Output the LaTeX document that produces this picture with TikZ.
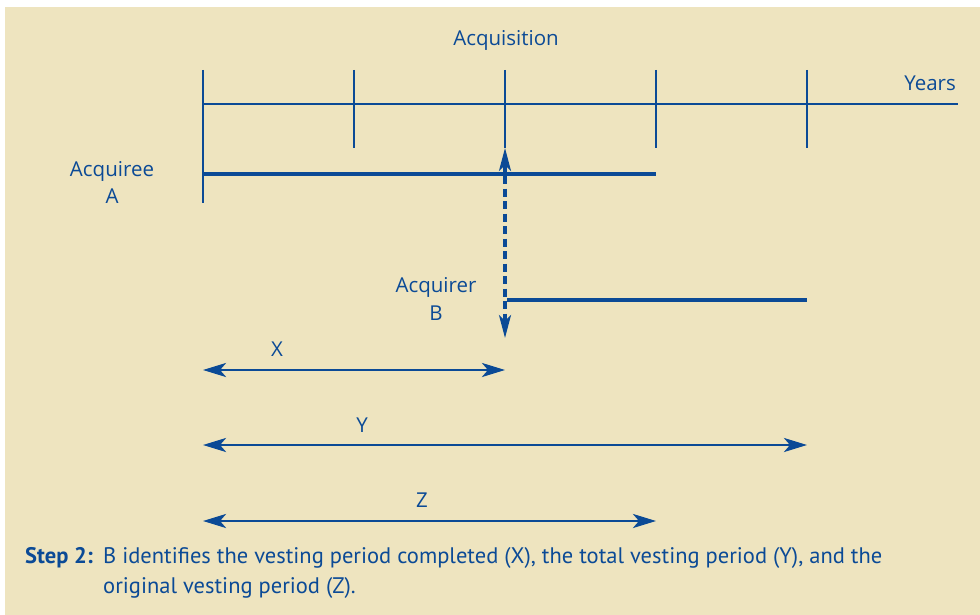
\documentclass[tikz,border=0pt]{standalone}
\usepackage{fontspec}
\setmainfont{PT Sans}
\newfontfamily\labelfont{Open Sans}
\usetikzlibrary{arrows.meta,calc,positioning}
\definecolor{ifrsblue}{HTML}{0B4A96}
\definecolor{panel}{HTML}{EEE4BF}
\tikzset{
  tickmark/.style={draw=ifrsblue,line width=2.6pt},
  vestbar/.style={draw=ifrsblue,line width=4.5pt},
  span/.style={draw=ifrsblue,line width=2.8pt,{Stealth[length=23pt,width=14pt,inset=6pt]}-{Stealth[length=23pt,width=14pt,inset=6pt]}},
  link/.style={draw=ifrsblue,line width=3.2pt,dash pattern=on 8pt off 4.5pt,{Stealth[length=23pt,width=12pt,inset=6pt]}-{Stealth[length=23pt,width=12pt,inset=6pt]}},
  lbl/.style={text=ifrsblue,font=\labelfont\fontsize{20.5}{28}\selectfont,inner sep=0pt,align=center},
  note/.style={text=ifrsblue,font=\fontsize{22.5}{30}\selectfont,inner sep=0pt,align=left}
}

\begin{document}
\begin{tikzpicture}[x=1pt,y=-1pt]
  \useasboundingbox (0,0) rectangle (980,615);
  \fill[panel] (5,7) rectangle (980,615);

  % time axis
  \coordinate (t0) at (203,104);
  \coordinate (t1) at (354,104);
  \coordinate (t2) at (505,104);
  \coordinate (t3) at (656,104);
  \coordinate (t4) at (807,104);
  \coordinate (tend) at (958,104);
  \draw[tickmark] (t0) -- (tend);
  \draw[tickmark] ($(t0)+(0,-34)$) -- ($(t0)+(0,99)$);
  \draw[tickmark] ($(t1)+(0,-34)$) -- ($(t1)+(0,44)$);
  \draw[tickmark] ($(t2)+(0,-34)$) -- ($(t2)+(0,44)$);
  \draw[tickmark] ($(t3)+(0,-34)$) -- ($(t3)+(0,44)$);
  \draw[tickmark] ($(t4)+(0,-34)$) -- ($(t4)+(0,44)$);
  \node[lbl,anchor=base] (acq) at (506,46) {Acquisition};
  \node[lbl,anchor=base east] (years) at (956,91) {Years};

  % acquiree and acquirer
  \coordinate (a0) at (203,174);
  \coordinate (a1) at (656,174);
  \coordinate (b0) at (507,300);
  \coordinate (b1) at (807,300);
  \draw[vestbar] (a0) -- (a1);
  \draw[vestbar] (b0) -- (b1);
  \node[lbl,anchor=base] (acquiree) at (112,204) {Acquiree\\A};
  \node[lbl,anchor=base] (acquirer) at (436,320) {Acquirer\\B};
  \coordinate (dtop) at (505,148);
  \coordinate (dbot) at (505,338);
  \draw[link] (dtop) -- (dbot);

  % vesting periods
  \coordinate (x0) at (203,370);
  \coordinate (x1) at (505,370);
  \coordinate (y0) at (203,445);
  \coordinate (y1) at (807,445);
  \coordinate (z0) at (203,521);
  \coordinate (z1) at (656,521);
  \draw[span] (x0) -- (x1);
  \draw[span] (y0) -- (y1);
  \draw[span] (z0) -- (z1);
  \node[lbl,anchor=base] (xl) at (277,356) {X};
  \node[lbl,anchor=base] (yl) at (362,432) {Y};
  \node[lbl,anchor=base] (zl) at (422,507) {Z};

  % caption
  \node[note,anchor=base west,font=\bfseries\fontsize{22.5}{30}\selectfont] (step) at (25,563) {Step 2:};
  \node[note,anchor=base west] (text) at (103,593)
    {B identifies the vesting period completed (X), the total vesting period (Y), and the\\original vesting period (Z).};
\end{tikzpicture}
\end{document}
